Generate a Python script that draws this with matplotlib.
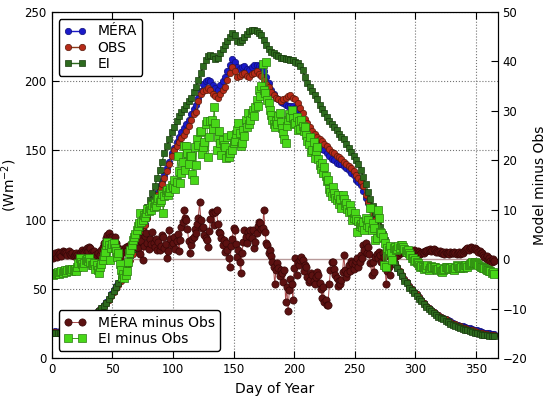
import numpy as np
import matplotlib
matplotlib.use("Agg")
import matplotlib.pyplot as plt

plt.rcParams["font.family"] = "DejaVu Sans"

# daily values (diffs) and every second day (absolute fluxes)
days = np.arange(1, 366)
days_abs = np.arange(1, 366, 2)

mera = [19, 19.5, 19, 19.5, 20, 20.5, 21, 21.5, 22, 22.5,
        23.5, 24.5, 25.5, 26.5, 28, 29.5, 31, 32, 33.5, 35,
        36.5, 38.5, 40.5, 43, 46, 49, 52, 54, 57, 60,
        64, 68, 72, 76, 80, 84, 89, 93, 97, 102,
        107, 111, 115, 119, 124, 128, 132, 137, 142, 148,
        152, 156, 160, 163, 166, 169, 172, 176, 180, 183,
        188, 193, 198, 200, 201, 200, 197, 195, 194, 197,
        200, 203, 207, 212, 216, 214, 210, 209, 210, 211,
        209, 208, 210, 212, 212, 211, 210, 207, 203, 199,
        194, 191, 188, 187, 185, 184, 183, 182, 182, 182,
        181, 179, 176, 172, 168, 165, 162, 159, 157, 155,
        153, 151, 150, 148, 146, 144, 143, 141, 140, 140,
        139, 137.5, 136, 134, 132, 129, 127, 125, 121, 116,
        112, 108, 104, 99, 95, 91, 87, 83, 79, 75,
        71, 68, 65, 62, 59, 57, 55, 52, 50, 48,
        46, 44, 42, 40, 38, 36.5, 35, 33.5, 32, 31,
        30, 29, 28, 27.5, 26.5, 25.5, 25, 24, 23.5, 23,
        22.5, 22, 21.5, 21, 20.5, 20, 19.5, 19, 18.5, 18,
        18, 17.5, 17.5]

obs = [19, 19, 18.5, 19, 19.5, 20, 20.5, 21, 21, 22,
       23, 24, 25, 26, 27.5, 29, 30, 31, 33, 34.5,
       36, 38, 40, 42, 45, 48, 51, 53, 56, 59,
       63, 67, 71, 75, 79, 83, 88, 92, 96, 101,
       106, 110, 114, 118, 122, 126, 130, 135, 140, 146,
       150, 153, 156, 159, 161, 164, 168, 172, 176, 178,
       186, 191, 193, 194, 195, 194, 191, 189, 188, 191,
       194, 196, 201, 206, 210, 207, 203, 204, 205, 206,
       204, 203, 205, 206, 207, 205, 204, 201, 198, 196,
       192, 190, 188, 187, 186, 187, 188, 189, 190, 188,
       187, 184, 181, 177, 173, 170, 167, 164, 162, 160,
       158, 157, 155, 153, 151, 149, 148, 146, 145, 144,
       142, 140.5, 139, 137, 135, 132, 130, 128, 124, 118,
       113, 109, 105, 100, 96, 92, 88, 84, 80, 76,
       72, 69, 66, 63, 60, 57, 55, 52, 50, 48,
       46, 44, 42, 40, 38, 36.5, 35, 33.5, 32, 31,
       30, 29, 28, 27, 26, 25, 24.5, 23.5, 23, 22,
       21.5, 21, 20.5, 20, 19.5, 19, 18.5, 18, 17.5, 17.5,
       17, 17, 17]

ei = [18, 18.5, 18, 18.5, 19, 19.5, 20, 20.5, 21, 21.5,
      22.5, 23.5, 24.5, 25.5, 27, 28.5, 30, 31, 32.5, 34,
      36, 38, 40, 42.5, 45.5, 48.5, 51.5, 54, 57, 60,
      64, 69, 74, 79, 84, 89, 94, 99, 104, 109,
      114, 119, 124, 130, 136, 142, 148, 153, 158, 163,
      167, 171, 175, 178, 180, 183, 186, 188, 192, 196,
      201, 206, 211, 215, 218, 219, 218, 216, 217, 220,
      223, 226, 229, 232, 235, 233, 229, 228, 230, 232,
      234, 236, 237, 237, 236, 235, 233, 230, 226, 223,
      221, 220, 219, 218, 217, 217, 216, 216, 215, 215,
      214, 213, 211, 208, 203, 199, 196, 193, 190, 187,
      183, 180, 177, 174, 171, 169, 167, 165, 162, 160,
      158, 155, 152, 149, 146, 143, 140, 136, 131, 126,
      120, 115, 110, 105, 100, 95, 90, 85, 80, 76,
      71, 68, 65, 62, 59, 56, 54, 51, 49, 47,
      45, 43, 41, 39, 37, 35.5, 34, 32.5, 31, 30,
      29, 28, 27, 26, 25, 24, 23.5, 22.5, 22, 21,
      20.5, 20, 19.5, 19, 18.5, 18, 17.5, 17, 16.5, 16.5,
      16, 16, 16]

mera_minus_obs = [0.3, 0.8, 1.2, 0.5, 1.5, 1.0, 1.3, 0.7, 1.6, 1.4,
                  1.5, 1.2, 0.9, 1.6, 1.1, 0.8, 1.3, 0.6, 0.9, 1.2,
                  0.9, 0.4, 1.1, 1.4, 1.8, 1.5, 1.2, 1.9, 2.2, 1.6,
                  2.5, 2.3, 1.4, 1.0, 1.7, 0.9, 0.6, 1.2, -0.1, 0.8,
                  1.9, 2.4, 3.3, 3.0, 4.2, 5.0, 5.3, 4.6, 4.1, 4.5,
                  3.8, 4.5, 3.2, 2.5, 1.6, 0.5, 1.3, 2.1, 1.4, 1.9,
                  2.4, 1.9, 2.6, 1.2, 2.8, 2.5, 3.4, 2.9, 3.9, 3.1,
                  2.2, 4.3, 1.0, 3.6, -0.1, 2.7, 4.8, 5.3, 3.2, 2.0,
                  4.1, 3.0, 5.6, 3.3, 2.4, 4.0, 1.8, 3.5, 1.9, 2.6,
                  4.9, 4.5, 2.3, 3.1, 0.3, 1.7, 5.9, 4.0, 2.9, 3.3,
                  4.6, 2.1, 3.7, 5.2, 1.6, 3.9, 6.5, 7.6, 10.0, 8.4,
                  8.0, 6.2, 3.6, 1.3, 2.8, 4.0, 4.5, 6.1, 5.4, 7.2,
                  8.4, 11.6, 8.0, 6.3, 6.6, 5.0, 4.3, 3.9, 2.5, 5.8,
                  8.1, 9.6, 9.4, 7.0, 9.6, 10.0, 7.1, 5.5, 5.3, 4.4,
                  2.9, 3.9, 1.5, 3.2, 1.9, 0.3, -1.5, 2.6, 4.1, 6.3,
                  5.9, 3.0, 0.5, 1.8, -0.6, -2.8, 1.2, 3.4, 5.9, 4.6,
                  3.3, 5.5, 4.8, 6.0, 4.2, 5.9, 2.3, 3.5, 5.3, 6.7,
                  7.6, 7.3, 6.1, 6.3, 10.0, 5.6, 3.3, 2.9, 1.3, 1.9,
                  0.6, -0.5, -1.5, -5.1, -2.2, -0.8, -1.8, -3.4, -2.1, -2.8,
                  -4.6, -2.1, -8.6, -5.7, -10.5, -6.3, -3.9, -5.1, -8.2, -1.7,
                  0.3, -3.1, -0.5, -1.2, -0.1, 0.5, -0.1, -2.4, -1.1, -1.5,
                  -3.6, -4.5, -4.1, -2.8, -3.1, -4.4, -5.1, -3.5, -2.6, -3.1,
                  -4.7, -6.1, -7.8, -5.6, -8.6, -8.2, -9.2, -9.2, -5.1, -2.2,
                  -0.5, -0.5, -1.9, -3.1, -3.7, -5.5, -4.4, -5.1, -4.1, -2.5,
                  0.9, -2.1, -3.5, -2.8, -1.2, -2.3, -0.4, -0.8, -1.9, -1.0,
                  -0.3, 0.3, -1.5, -0.6, 0.8, 0.3, 2.9, 1.8, 3.3, 1.3,
                  2.5, 1.1, -0.8, -3.1, -0.5, -2.5, 0.5, 1.0, 0.2, 1.5,
                  0.9, -0.5, 1.2, 0.4, -1.8, -5.1, -2.4, -1.5, -3.1, 0.6,
                  1.3, 0.9, 0.5, 1.1, 1.6, 0.8, 1.4, 1.2, 1.9, 1.5,
                  1.7, 1.2, 1.5, 1.9, 1.4, 1.1, 1.6, 1.3, 1.8, 1.5,
                  1.2, 1.6, 1.4, 1.0, 1.3, 1.5, 1.2, 1.7, 1.6, 1.9,
                  1.9, 2.1, 1.6, 1.8, 2.0, 1.9, 1.5, 1.7, 1.4, 1.6,
                  1.3, 1.3, 1.5, 1.1, 1.4, 1.2, 1.3, 1.0, 1.4, 1.2,
                  1.3, 1.5, 1.3, 1.1, 1.2, 1.4, 1.0, 1.3, 1.3, 1.6,
                  1.8, 2.0, 2.2, 1.9, 2.3, 2.5, 2.2, 2.1, 2.3, 2.0,
                  1.8, 1.5, 1.7, 1.2, 1.3, 0.8, 0.5, 0.3, 0.6, -0.1,
                  0.2, -0.3, -0.5, 0.1, -0.4]

ei_minus_obs = [-3.2, -2.8, -3.0, -2.8, -2.6, -2.9, -2.5, -2.3, -2.7, -2.4,
                -2.2, -2.5, -2.1, -2.0, -2.1, -2.3, -1.9, -2.2, -2.0, -2.4,
                -1.6, -0.8, 0.3, -0.5, -0.9, -1.5, -0.7, -0.2, 0.1, -0.4,
                0.3, -0.6, -1.2, -1.1, -0.8, -1.9, -1.1, -2.2, -2.8, -1.6,
                -0.9, -0.1, 0.6, 1.5, 2.9, 3.4, 2.8, -0.1, 2.2, 3.1,
                3.3, 2.3, 1.6, 0.5, 1.3, -1.0, -2.1, -3.5, -3.0, -3.8,
                -3.2, -2.4, -0.5, 1.2, 1.9, 2.8, 3.9, 4.6, 5.2, 6.0,
                6.8, 7.4, 9.4, 7.6, 8.0, 8.9, 8.5, 9.4, 10.1, 9.7,
                10.4, 9.9, 11.0, 10.6, 11.4, 10.8, 11.9, 12.3, 11.6, 12.0,
                13.1, 9.4, 12.8, 13.5, 14.0, 12.9, 13.7, 14.5, 15.0, 14.7,
                16.1, 14.2, 15.7, 20.8, 17.9, 15.4, 17.4, 19.7, 22.9, 18.1,
                22.9, 21.5, 19.3, 20.8, 20.8, 17.2, 16.1, 22.7, 19.0, 24.3,
                23.1, 25.8, 26.0, 21.3, 22.7, 23.8, 27.4, 28.0, 20.7, 24.8,
                28.0, 28.2, 26.3, 30.8, 27.5, 22.1, 24.8, 26.0, 23.5, 21.0,
                24.2, 23.0, 22.7, 20.4, 24.8, 20.7, 21.4, 25.2, 22.1, 23.5,
                24.0, 25.4, 26.2, 27.5, 25.6, 22.8, 23.5, 26.1, 24.9, 28.2,
                26.8, 29.6, 27.4, 28.1, 29.5, 30.2, 28.9, 30.8, 32.2, 31.0,
                34.3, 33.0, 35.0, 39.4, 34.3, 33.6, 39.8, 32.2, 31.5, 30.2,
                29.1, 28.2, 27.4, 26.8, 28.0, 27.3, 29.0, 29.6, 27.7, 26.5,
                25.6, 24.4, 23.5, 26.9, 28.2, 29.4, 28.8, 30.2, 28.6, 27.4,
                27.5, 28.8, 26.2, 27.9, 26.4, 28.2, 27.0, 25.9, 26.8, 25.1,
                24.0, 23.4, 24.8, 21.6, 22.1, 23.7, 20.5, 21.8, 22.7, 20.2,
                19.1, 18.3, 19.5, 17.4, 18.6, 16.9, 15.8, 16.0, 14.3, 13.6,
                12.8, 14.7, 13.3, 12.4, 11.9, 13.0, 11.2, 12.1, 10.4, 13.0,
                12.2, 10.9, 11.4, 10.1, 9.6, 11.0, 9.8, 8.0, 8.4, 9.4,
                8.1, 5.6, 7.7, 6.8, 7.2, 6.6, 7.6, 5.9, 8.3, 7.0,
                8.0, 6.5, 10.4, 6.0, 7.3, 6.3, 3.9, 4.3, 9.9, 8.4,
                5.5, 5.3, 4.6, -1.1, 3.3, -1.5, 2.3, 1.9, 2.6, 1.2,
                -0.1, 2.3, 2.5, 1.8, 2.1, 2.6, 2.2, 2.9, 2.9, 2.4,
                2.0, 1.6, 1.5, 1.9, 1.2, 0.8, 0.3, 0.3, -0.4, -0.1,
                -0.5, -0.8, -1.2, -1.5, -1.3, -1.5, -1.9, -1.6, -1.7, -1.1,
                -2.1, -1.8, -1.4, -1.6, -1.5, -1.5, -1.9, -2.2, -2.0, -1.8,
                -2.3, -2.5, -2.1, -1.9, -1.6, -1.5, -1.8, -2.0, -1.7, -1.6,
                -1.9, -2.1, -1.8, -1.1, -1.4, -1.7, -1.8, -1.6, -1.8, -1.5,
                -1.2, -1.1, -1.5, -1.1, -0.9, -0.7, -0.6, -0.7, -0.5, -0.8,
                -1.0, -1.2, -1.3, -1.5, -1.5, -1.7, -1.8, -1.9, -2.1, -2.1,
                -2.3, -2.4, -2.8, -2.6, -2.9]

fig = plt.figure(figsize=(5.5, 3.98), dpi=100)
ax = fig.add_axes([0.094, 0.1, 0.811, 0.87])
ax2 = ax.twinx()

ax.plot(days_abs, mera, "o-", color="#1a1ac8", mec="#10107a", mew=0.5,
        ms=4.6, lw=1, label="MÉRA")
ax.plot(days_abs, obs, "o-", color="#8b3a1a", mfc="#b52a18", mec="#5a1a0a",
        mew=0.5, ms=4.6, lw=1, label="OBS")
ax.plot(days_abs, ei, "s-", color="#2d6a1e", mfc="#2d6a1e", mec="#173a0c",
        mew=0.5, ms=4.4, lw=1, label="EI")

ax.set_xlim(0, 368)
ax.set_ylim(0, 250)
ax.set_xticks(range(0, 351, 50))
ax.set_yticks(range(0, 251, 50))
ax.grid(True, ls=":", color="0.45", lw=0.8)
ax.tick_params(direction="in", top=True, right=False, labelsize=8.5, length=5)
ax.set_xlabel("Day of Year", fontsize=10)
ax.set_ylabel("(Wm$^{-2}$)", fontsize=10)
ax.legend(loc="upper left", fontsize=10, numpoints=2, handlelength=1.6,
          labelspacing=0.15, borderpad=0.4, handletextpad=0.8,
          fancybox=True, framealpha=1, edgecolor="black")

ax2.axhline(0, color="#b89a9a", lw=1, zorder=1)
ax2.plot(days, mera_minus_obs, "o-", color="#a84a4a", mfc="#5c1111",
         mec="#360707", mew=0.5, ms=5.2, lw=0.7, label="MÉRA minus Obs")
ax2.plot(days, ei_minus_obs, "s-", color="#3a9a1a", mfc="#48d818",
         mec="#2a7a10", mew=0.5, ms=5.2, lw=0.7, label="EI minus Obs")
ax2.set_ylim(-20, 50)
ax2.set_yticks(range(-20, 51, 10))
ax2.tick_params(direction="in", labelsize=8.5, length=5)
ax2.set_ylabel("Model minus Obs", fontsize=10)
ax2.legend(loc="lower left", fontsize=10, numpoints=2, handlelength=1.6,
           labelspacing=0.15, borderpad=0.4, handletextpad=0.8,
           fancybox=True, framealpha=1, edgecolor="black")

fig.savefig("out.png", dpi=100)
